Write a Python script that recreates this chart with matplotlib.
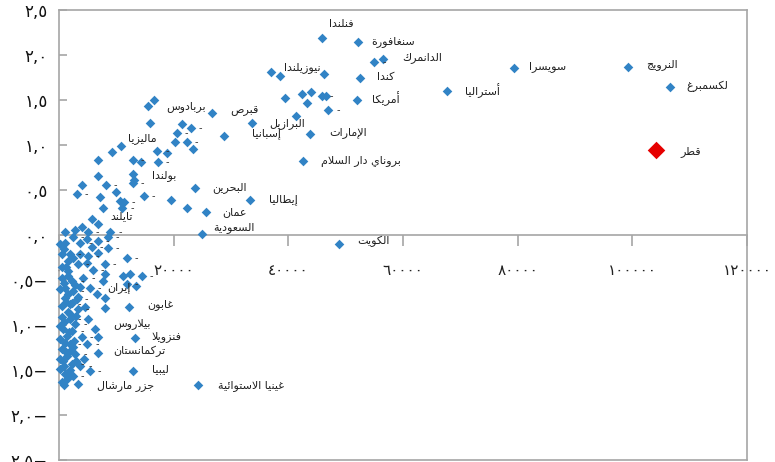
import matplotlib
matplotlib.use("Agg")
import matplotlib.pyplot as plt
from matplotlib.ticker import FixedLocator, MultipleLocator, FuncFormatter

# GDP per capita vs index, labels are country names ("-" = stray short labels)
gdp = [45900, 52200, 56500, 55000, 79300, 99300, 106600, 67600, 52500, 37000,
       38500, 46300, 52000, 39500, 42300, 44000, 43200, 45800, 46600, 47000,
       41400, 43800, 42600, 33400, 28700, 33600, 26600, 23800, 25600, 24900,
       48900, 24200, 12900, 3300, 6800, 13200, 6300, 12200, 13400, 12900,
       10800, 6800,
       15500, 16500, 15800, 21400, 20500, 20200, 23000, 22300, 23300, 9200,
       6800, 12900, 14300, 17100, 18800, 17200, 6800, 13100, 12900, 4000,
       8200, 3100, 9900, 7100, 10600, 11300, 14800, 19500, 7700, 11000,
       22300, 5700, 4000, 2800, 1000, 5000, 8900,
       1000, 2400, 3700, 4900, 5700, 6800, 8500, 1900, 3700, 5000,
       6800, 8500, 11800, 3300, 4900, 8000, 1600, 5900, 8000, 12400,
       500, 2300, 4200, 11100, 11800, 7700, 14400, 1000, 200, 2400,
       5400, 6600, 1000, 3100, 8000, 500, 1900, 8000, 3300, 500,
       1900, 5000, 700, 2300, 200, 1900, 6800, 4900, 500, 2800,
       700, 2300, 200, 1000, 2400, 500, 3700,
       1600, 500, 2800, 1600, 2800, 1400, 2400, 1400, 200, 1900,
       1400, 200, 3300, 4500, 4000, 4300, 5400, 1600, 500, 200,
       800, 1500, 800, 1200, 2000, 900, 1700, 1000, 1900, 900,
       1600, 800, 2600, 2900, 1300, 2500, 3600, 3000, 1200, 2200]
index = [2.19, 2.14, 1.96, 1.92, 1.86, 1.87, 1.64, 1.60, 1.74, 1.81,
         1.77, 1.79, 1.50, 1.52, 1.57, 1.59, 1.47, 1.54, 1.54, 1.39,
         1.32, 1.12, 0.82, 0.39, 1.10, 1.24, 1.36, 0.52, 0.26, 0.01,
         -0.10, -1.67, -1.51, -1.66, -1.31, -1.14, -1.04, -0.80, -0.57, 0.68,
         0.99, 0.12,
         1.43, 1.50, 1.24, 1.23, 1.13, 1.03, 1.19, 1.03, 0.96, 0.92,
         0.83, 0.83, 0.81, 0.93, 0.91, 0.81, 0.66, 0.61, 0.58, 0.56,
         0.56, 0.46, 0.48, 0.42, 0.38, 0.37, 0.43, 0.39, 0.30, 0.30,
         0.30, 0.18, 0.09, 0.06, 0.03, 0.03, 0.03,
         -0.09, -0.02, -0.09, -0.04, -0.13, -0.07, -0.02, -0.21, -0.21, -0.23,
         -0.20, -0.14, -0.26, -0.32, -0.31, -0.32, -0.40, -0.39, -0.43, -0.43,
         -0.48, -0.51, -0.48, -0.46, -0.54, -0.51, -0.46, -0.59, -0.60, -0.62,
         -0.59, -0.66, -0.70, -0.71, -0.70, -0.79, -0.77, -0.81, -0.82, -0.91,
         -0.93, -0.93, -1.04, -1.07, -1.16, -1.21, -1.13, -1.21, -1.27, -1.32,
         -1.40, -1.43, -1.49, -1.54, -1.57, -1.63, -1.46,
         -0.29, -0.36, -0.56, -0.86, -0.99, -1.12, -1.24, -1.34, -1.38, -1.50,
         -1.60, -1.01, -0.69, -0.80, -1.13, -1.38, -1.51, -0.66, -0.21, -0.10,
         -0.15, -0.45, -0.53, -0.74, -0.88, -0.97, -1.08, -1.20, -1.29, -1.45,
         -1.56, -1.67, -1.18, -0.90, -0.35, -0.26, -0.58, -1.40, -1.30, -0.75]
names = ["فنلندا", "سنغافورة", "الدانمرك", "-", "سويسرا", "النرويج", "لكسمبرغ", "أستراليا", "كندا", "نيوزيلندا",
         "", "", "أمريكا", "", "", "", "", "-", "", "-",
         "البرازيل", "الإمارات", "بروناي دار السلام", "إيطاليا", "إسبانيا", "قبرص", "بربادوس", "البحرين", "عمان", "السعودية",
         "الكويت", "غينيا الاستوائية", "ليبيا", "جزر مارشال", "تركمانستان", "فنزويلا", "بيلاروس", "غابون", "إيران", "بولندا",
         "ماليزيا", "تايلند",
         "", "", "", "", "-", "", "-", "-", "", "",
         "", "-", "", "-", "", "-", "", "", "-", "",
         "-", "-", "", "", "", "-", "-", "", "", "-",
         "", "", "", "", "", "-", "-",
         "", "-", "-", "", "-", "-", "-", "-", "", "-",
         "", "-", "-", "-", "", "-", "", "-", "", "",
         "", "-", "-", "", "-", "", "-", "", "", "-",
         "-", "", "", "-", "", "", "-", "", "-", "",
         "-", "", "", "-", "", "-", "", "-", "", "-",
         "", "-", "", "", "-", "", "-",
         "", "", "", "", "-", "", "", "", "", "",
         "", "", "", "", "-", "", "-", "", "", "",
         "", "", "", "", "", "", "", "", "", "",
         "", "", "", "", "", "", "", "", "", ""]

qatar_gdp = [104200]
qatar_index = [0.94]
qatar_name = "قطر"

xticks = [0, 20000, 40000, 60000, 80000, 100000, 120000]

# label offsets in pixels (left edge of text relative to the point)
offsets = {
    "فنلندا": (7, 14), "سنغافورة": (13, 1), "الدانمرك": (19, 1), "سويسرا": (15, 1),
    "النرويج": (18, 2), "لكسمبرغ": (16, 1), "أستراليا": (18, 0), "كندا": (17, 1),
    "نيوزيلندا": (13, 5), "أمريكا": (15, 1), "البرازيل": (-27, -7), "الإمارات": (19, 2),
    "بروناي دار السلام": (18, 0), "إيطاليا": (19, 0), "إسبانيا": (28, 2), "قبرص": (-21, 12),
    "بربادوس": (-45, 6), "البحرين": (17, 1), "عمان": (16, 0), "السعودية": (11, 7),
    "الكويت": (18, 3), "غينيا الاستوائية": (20, 0), "ليبيا": (19, 2), "جزر مارشال": (19, -1),
    "تركمانستان": (15, 2), "فنزويلا": (17, 1), "بيلاروس": (18, 5), "غابون": (18, 2),
    "إيران": (-29, -1), "بولندا": (19, -2), "ماليزيا": (7, 7), "تايلند": (12, 8),
    "قطر": (24, -1),
}

# Arabic letter -> (first presentation form, number of forms)
AR = {'ء': (0xFE80, 1), 'آ': (0xFE81, 2), 'أ': (0xFE83, 2), 'ؤ': (0xFE85, 2),
      'إ': (0xFE87, 2), 'ئ': (0xFE89, 4), 'ا': (0xFE8D, 2), 'ب': (0xFE8F, 4),
      'ة': (0xFE93, 2), 'ت': (0xFE95, 4), 'ث': (0xFE99, 4), 'ج': (0xFE9D, 4),
      'ح': (0xFEA1, 4), 'خ': (0xFEA5, 4), 'د': (0xFEA9, 2), 'ذ': (0xFEAB, 2),
      'ر': (0xFEAD, 2), 'ز': (0xFEAF, 2), 'س': (0xFEB1, 4), 'ش': (0xFEB5, 4),
      'ص': (0xFEB9, 4), 'ض': (0xFEBD, 4), 'ط': (0xFEC1, 4), 'ظ': (0xFEC5, 4),
      'ع': (0xFEC9, 4), 'غ': (0xFECD, 4), 'ف': (0xFED1, 4), 'ق': (0xFED5, 4),
      'ك': (0xFED9, 4), 'ل': (0xFEDD, 4), 'م': (0xFEE1, 4), 'ن': (0xFEE5, 4),
      'ه': (0xFEE9, 4), 'و': (0xFEED, 2), 'ى': (0xFEEF, 2), 'ي': (0xFEF1, 4)}
LAM_ALEF = {'آ': 0xFEF5, 'أ': 0xFEF7, 'إ': 0xFEF9, 'ا': 0xFEFB}


def shape_ar(s):
    # join letters and put them in visual (right to left) order
    out = []
    i = 0
    n = len(s)
    while i < n:
        c = s[i]
        if c not in AR:
            out.append(c)
            i += 1
            continue
        prev = s[i - 1] if i > 0 else ''
        jp = prev in AR and AR[prev][1] == 4
        if c == 'ل' and i + 1 < n and s[i + 1] in LAM_ALEF:
            out.append(chr(LAM_ALEF[s[i + 1]] + (1 if jp else 0)))
            i += 2
            continue
        base, nf = AR[c]
        nxt = s[i + 1] if i + 1 < n else ''
        jn = nf == 4 and nxt in AR and nxt != 'ء'
        if nf == 1:
            f = 0
        elif nf == 2:
            f = 1 if jp else 0
        else:
            f = {(False, False): 0, (True, False): 1, (False, True): 2, (True, True): 3}[(jp, jn)]
        out.append(chr(base + f))
        i += 1
    return ''.join(reversed(out))


DIG = str.maketrans("0123456789", "٠١٢٣٤٥٦٧٨٩")


def fmt_y(v, pos):
    s = f"{abs(v):.1f}".replace(".", ",").translate(DIG)
    return s + "−" if v < -1e-9 else s


def fmt_x(v, pos):
    return f"{v:.0f}".translate(DIG)


plt.rcParams['font.family'] = ['DejaVu Sans']
gray = "#a6a6a6"
blue = "#3183c5"

fig = plt.figure(figsize=(7.75, 4.62), dpi=100)
ax = fig.add_axes([59 / 775, 2 / 462, 688 / 775, 450 / 462])

ax.scatter(gdp, index, marker="D", s=24, color=blue, linewidths=0, zorder=3, clip_on=False)
ax.scatter(qatar_gdp, qatar_index, marker="D", s=80, color="#e60000", linewidths=0, zorder=4)

for x, y, name in zip(gdp + qatar_gdp, index + qatar_index, names + [qatar_name]):
    if name == "":
        continue
    if name == "-":
        ax.annotate("-", (x, y), xytext=(8, 0), textcoords="offset pixels",
                    ha="left", va="center", fontsize=7, color="#333333", zorder=5)
    else:
        ax.annotate(shape_ar(name), (x, y), xytext=offsets.get(name, (10, 0)),
                    textcoords="offset pixels", ha="left", va="center",
                    fontsize=8, color="#222222", zorder=5)

ax.set_xlim(0, 120000)
ax.set_ylim(-2.5, 2.5)

ax.spines['bottom'].set_position(('data', 0))
for sp in ax.spines.values():
    sp.set_color(gray)
    sp.set_linewidth(1.2)
ax.plot([0, 1], [0, 0], transform=ax.transAxes, color=gray, lw=1.2, clip_on=False)

ax.xaxis.set_major_locator(FixedLocator(xticks))
ax.xaxis.set_major_formatter(FuncFormatter(fmt_x))
ax.yaxis.set_major_locator(MultipleLocator(0.5))
ax.yaxis.set_major_formatter(FuncFormatter(fmt_y))
ax.tick_params(axis='x', direction='out', length=8, width=1.2, color=gray, pad=12,
               labelsize=11, labelcolor="#222222")
ax.tick_params(axis='y', direction='in', length=6, width=1.2, color=gray, pad=8,
               labelsize=12, labelcolor="#111111")

fig.savefig("out.png", dpi=100)
